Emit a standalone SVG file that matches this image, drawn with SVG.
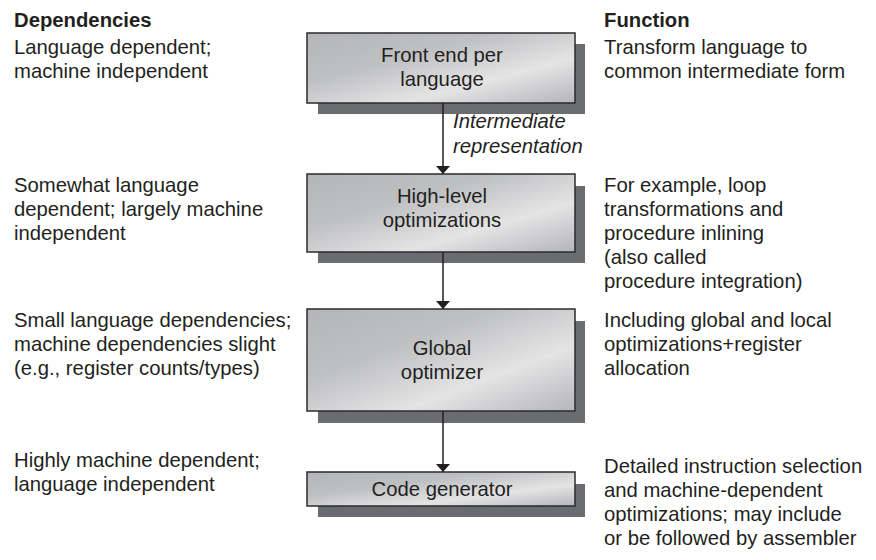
<svg xmlns="http://www.w3.org/2000/svg" width="876" height="560" viewBox="0 0 876 560">
<defs>
<linearGradient id="g" x1="0" y1="0" x2="1" y2="1">
<stop offset="0" stop-color="#b4b5b8"/>
<stop offset="0.35" stop-color="#bfc0c2"/>
<stop offset="0.68" stop-color="#e4e4e5"/>
<stop offset="1" stop-color="#b4b5b8"/>
</linearGradient>
<marker id="ah" viewBox="0 0 8 14" refX="8" refY="7" markerWidth="8" markerHeight="14" markerUnits="userSpaceOnUse" orient="auto">
<path d="M0,0 L8,7 L0,14 Z" fill="#231f20"/>
</marker>
<style>
text{font-family:"Liberation Sans",Arial,sans-serif;font-size:20.3px;fill:#231f20}
.b{font-weight:bold}
.i{font-style:italic}
.c{text-anchor:middle}
.box{fill:url(#g);stroke:#2b2b2d;stroke-width:1.5}
.sh{fill:#6b6c6f}
.ln{stroke:#231f20;stroke-width:1.5;fill:none;marker-end:url(#ah)}
</style>
</defs>
<g id="labels-left">
<text class="b" x="14" y="27">Dependencies</text>
<text x="14" y="54">Language dependent;</text>
<text x="14" y="78">machine independent</text>
<text x="14" y="192">Somewhat language</text>
<text x="14" y="216">dependent; largely machine</text>
<text x="14" y="240">independent</text>
<text x="14" y="327">Small language dependencies;</text>
<text x="14" y="351">machine dependencies slight</text>
<text x="14" y="375">(e.g., register counts/types)</text>
<text x="14" y="467">Highly machine dependent;</text>
<text x="14" y="491">language independent</text>
</g>
<g id="labels-right">
<text class="b" x="604" y="27">Function</text>
<text x="604" y="54">Transform language to</text>
<text x="604" y="78">common intermediate form</text>
<text x="604" y="192">For example, loop</text>
<text x="604" y="216">transformations and</text>
<text x="604" y="240">procedure inlining</text>
<text x="604" y="264">(also called</text>
<text x="604" y="288">procedure integration)</text>
<text x="604" y="327">Including global and local</text>
<text x="604" y="351">optimizations+register</text>
<text x="604" y="375">allocation</text>
<text x="604" y="473">Detailed instruction selection</text>
<text x="604" y="497">and machine-dependent</text>
<text x="604" y="521">optimizations; may include</text>
<text x="604" y="545">or be followed by assembler</text>
</g>
<g id="front-end">
<rect class="sh" x="318" y="44" width="267" height="70"/>
<rect class="box" x="307" y="33" width="268" height="70"/>
<text class="c" x="442" y="62">Front end per</text>
<text class="c" x="442" y="86">language</text>
</g>
<g id="high-level">
<rect class="sh" x="318" y="186" width="267" height="77"/>
<rect class="box" x="307" y="174" width="268" height="78"/>
<text class="c" x="442" y="203">High-level</text>
<text class="c" x="442" y="227">optimizations</text>
</g>
<g id="global">
<rect class="sh" x="318" y="321" width="267" height="102"/>
<rect class="box" x="307" y="309" width="268" height="102"/>
<text class="c" x="442" y="355">Global</text>
<text class="c" x="442" y="379">optimizer</text>
</g>
<g id="codegen">
<rect class="sh" x="318" y="484" width="267" height="33"/>
<rect class="box" x="307" y="472" width="268" height="34"/>
<text class="c" x="442" y="496">Code generator</text>
</g>
<g id="connectors">
<line class="ln" x1="443" y1="103" x2="443" y2="174"/>
<line class="ln" x1="443" y1="252" x2="443" y2="309"/>
<line class="ln" x1="443" y1="411" x2="443" y2="472"/>
<text class="i" x="453" y="128">Intermediate</text>
<text class="i" x="453" y="153">representation</text>
</g>
</svg>
